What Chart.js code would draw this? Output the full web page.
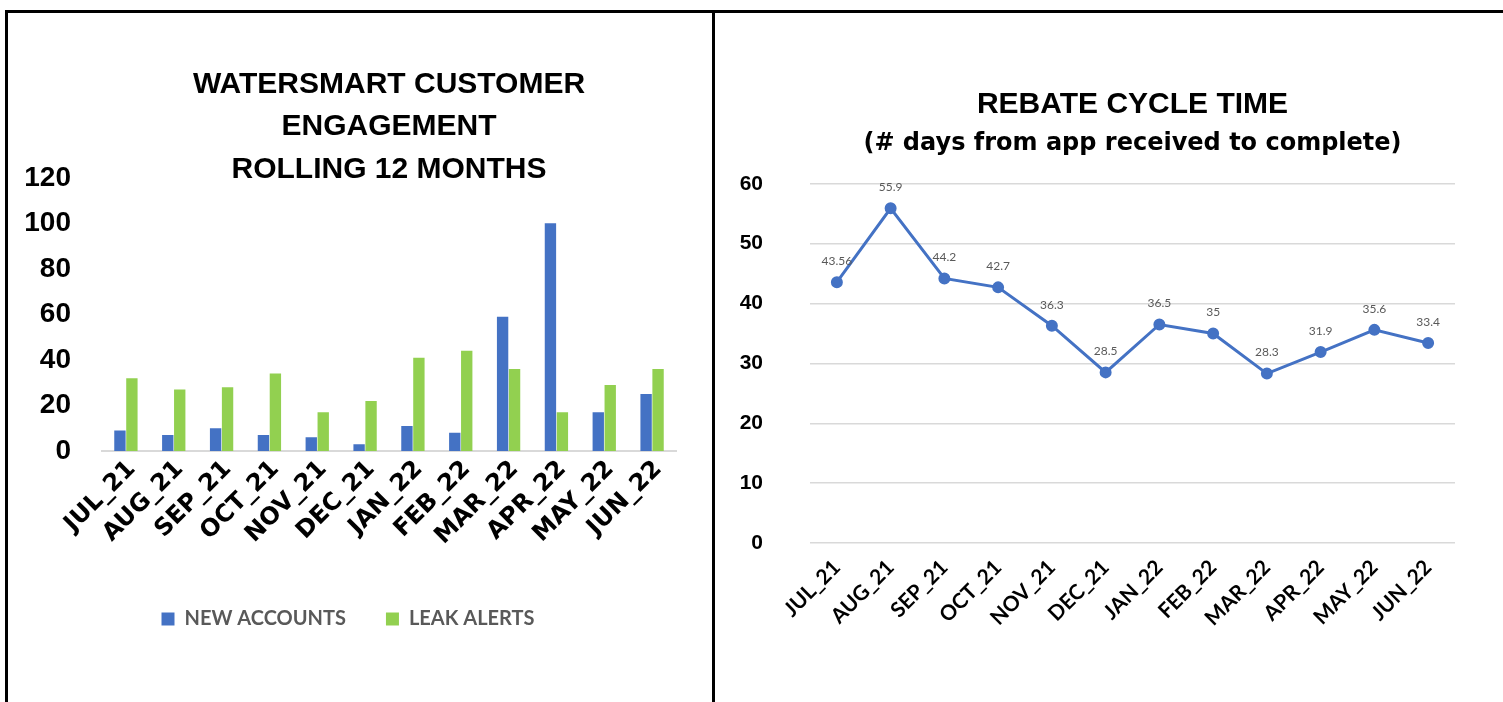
<!DOCTYPE html>
<html>
<head>
<meta charset="utf-8">
<title>WaterSmart engagement and rebate cycle time</title>
<script src="https://cdn.jsdelivr.net/npm/chart.js@4"></script>
<style>
  html, body { margin: 0; padding: 0; background: #fff; width: 1503px; height: 702px; overflow: hidden; }
  .frame { position: absolute; top: 10px; height: 700px; border-top: 3px solid #000; box-sizing: border-box; }
  #leftBox { left: 5px; width: 710px; border-left: 3px solid #000; border-right: 3px solid #000; }
  #rightBox { left: 715px; width: 788px; }
  .frame canvas { position: absolute; top: 0; left: 0; }
</style>
</head>
<body>
<div class="frame" id="leftBox"><canvas id="engagementChart" width="704" height="689"></canvas></div>
<div class="frame" id="rightBox"><canvas id="cycleChart" width="788" height="689"></canvas></div>
<script>
const months = ['JUL_21', 'AUG_21', 'SEP_21', 'OCT_21', 'NOV_21', 'DEC_21', 'JAN_22', 'FEB_22', 'MAR_22', 'APR_22', 'MAY_22', 'JUN_22'];
const newAccounts = [9, 7, 10, 7, 6, 3, 11, 8, 59, 100, 17, 25];
const leakAlerts = [32, 27, 28, 34, 17, 22, 41, 44, 36, 17, 29, 36];
const cycleDays = [43.56, 55.9, 44.2, 42.7, 36.3, 28.5, 36.5, 35, 28.3, 31.9, 35.6, 33.4];
const engagementMax = 120;
const engagementStep = 20;
const cycleMax = 60;
const cycleStep = 10;

const BLUE = '#4472C4';
const GREEN = '#92D050';
const GRID = '#d9d9d9';
const HEAD_FONT = "'Liberation Sans', Arial, sans-serif";
const WIDE_FONT = "'DejaVu Sans', sans-serif";
const BODY_FONT = "Lato, 'Open Sans', sans-serif";

// value labels above each point of the line
const pointLabels = {
  id: 'pointLabels',
  afterDatasetsDraw(chart) {
    const { ctx } = chart;
    const meta = chart.getDatasetMeta(0);
    const values = chart.data.datasets[0].data;
    ctx.save();
    ctx.font = `12px ${BODY_FONT}`;
    ctx.fillStyle = '#595959';
    ctx.textAlign = 'center';
    ctx.textBaseline = 'middle';
    meta.data.forEach((pt, i) => {
      ctx.fillText(String(values[i]), pt.x, pt.y - 21);
    });
    ctx.restore();
  }
};

new Chart(document.getElementById('engagementChart'), {
  type: 'bar',
  data: {
    labels: months,
    datasets: [
      { label: 'NEW ACCOUNTS', data: newAccounts, backgroundColor: BLUE, categoryPercentage: 0.5, barPercentage: 0.95 },
      { label: 'LEAK ALERTS', data: leakAlerts, backgroundColor: GREEN, categoryPercentage: 0.5, barPercentage: 0.95 }
    ]
  },
  options: {
    responsive: false,
    animation: false,
    layout: { padding: { left: 12, right: 36, top: 0, bottom: 63 } },
    plugins: {
      tooltip: { enabled: false },
      title: {
        display: true,
        fullSize: false,
        text: ['WATERSMART CUSTOMER', 'ENGAGEMENT', 'ROLLING 12 MONTHS'],
        color: '#000',
        font: { family: HEAD_FONT, size: 30, weight: 'bold', lineHeight: 1.42 },
        padding: { top: 50, bottom: -13 }
      },
      legend: {
        position: 'bottom',
        labels: {
          boxWidth: 13,
          boxHeight: 13,
          padding: 40,
          color: '#595959',
          font: { family: BODY_FONT, size: 20, weight: 'bold' }
        }
      }
    },
    scales: {
      x: {
        grid: { display: false, drawTicks: false },
        border: { display: true, color: GRID, width: 2 },
        ticks: {
          color: '#000',
          maxRotation: 45,
          minRotation: 45,
          padding: 4,
          labelOffset: 6,
          font: { family: WIDE_FONT, size: 24, weight: 'bold' }
        },
        afterFit: scale => { scale.height = 118; }
      },
      y: {
        min: 0,
        max: engagementMax,
        grid: { display: false, drawTicks: false },
        border: { display: false },
        ticks: {
          stepSize: engagementStep,
          color: '#000',
          padding: 31,
          font: { family: HEAD_FONT, size: 28, weight: 'bold' }
        },
        afterFit: scale => { scale.width = 82; }
      }
    }
  }
});

new Chart(document.getElementById('cycleChart'), {
  type: 'line',
  data: {
    labels: months,
    datasets: [{
      label: 'Days',
      data: cycleDays,
      borderColor: BLUE,
      backgroundColor: BLUE,
      borderWidth: 3,
      pointRadius: 4.5,
      pointBackgroundColor: BLUE,
      pointBorderColor: BLUE,
      tension: 0
    }]
  },
  options: {
    responsive: false,
    animation: false,
    layout: { padding: { left: 0, right: 48, top: 0, bottom: 0 } },
    plugins: {
      tooltip: { enabled: false },
      legend: { display: false },
      title: {
        display: true,
        fullSize: false,
        text: 'REBATE CYCLE TIME',
        color: '#000',
        font: { family: HEAD_FONT, size: 30, weight: 'bold', lineHeight: 1.2 },
        padding: { top: 74, bottom: 0 }
      },
      subtitle: {
        display: true,
        fullSize: false,
        text: '(# days from app received to complete)',
        color: '#000',
        font: { family: WIDE_FONT, size: 24, weight: 'bold', lineHeight: 1.2 },
        padding: { top: 6, bottom: 26 }
      }
    },
    scales: {
      x: {
        offset: true,
        grid: { display: false, drawTicks: false },
        border: { display: false },
        ticks: {
          color: '#000',
          maxRotation: 45,
          minRotation: 45,
          padding: 12,
          font: { family: BODY_FONT, size: 21, weight: 'bold' }
        },
        afterFit: scale => { scale.height = 159; }
      },
      y: {
        min: 0,
        max: cycleMax,
        grid: { color: GRID, lineWidth: 1.5, drawTicks: false },
        border: { display: false },
        ticks: {
          stepSize: cycleStep,
          color: '#000',
          padding: 47,
          font: { family: HEAD_FONT, size: 21, weight: 'bold' }
        },
        afterFit: scale => { scale.width = 95; }
      }
    }
  },
  plugins: [pointLabels]
});
</script>
</body>
</html>
